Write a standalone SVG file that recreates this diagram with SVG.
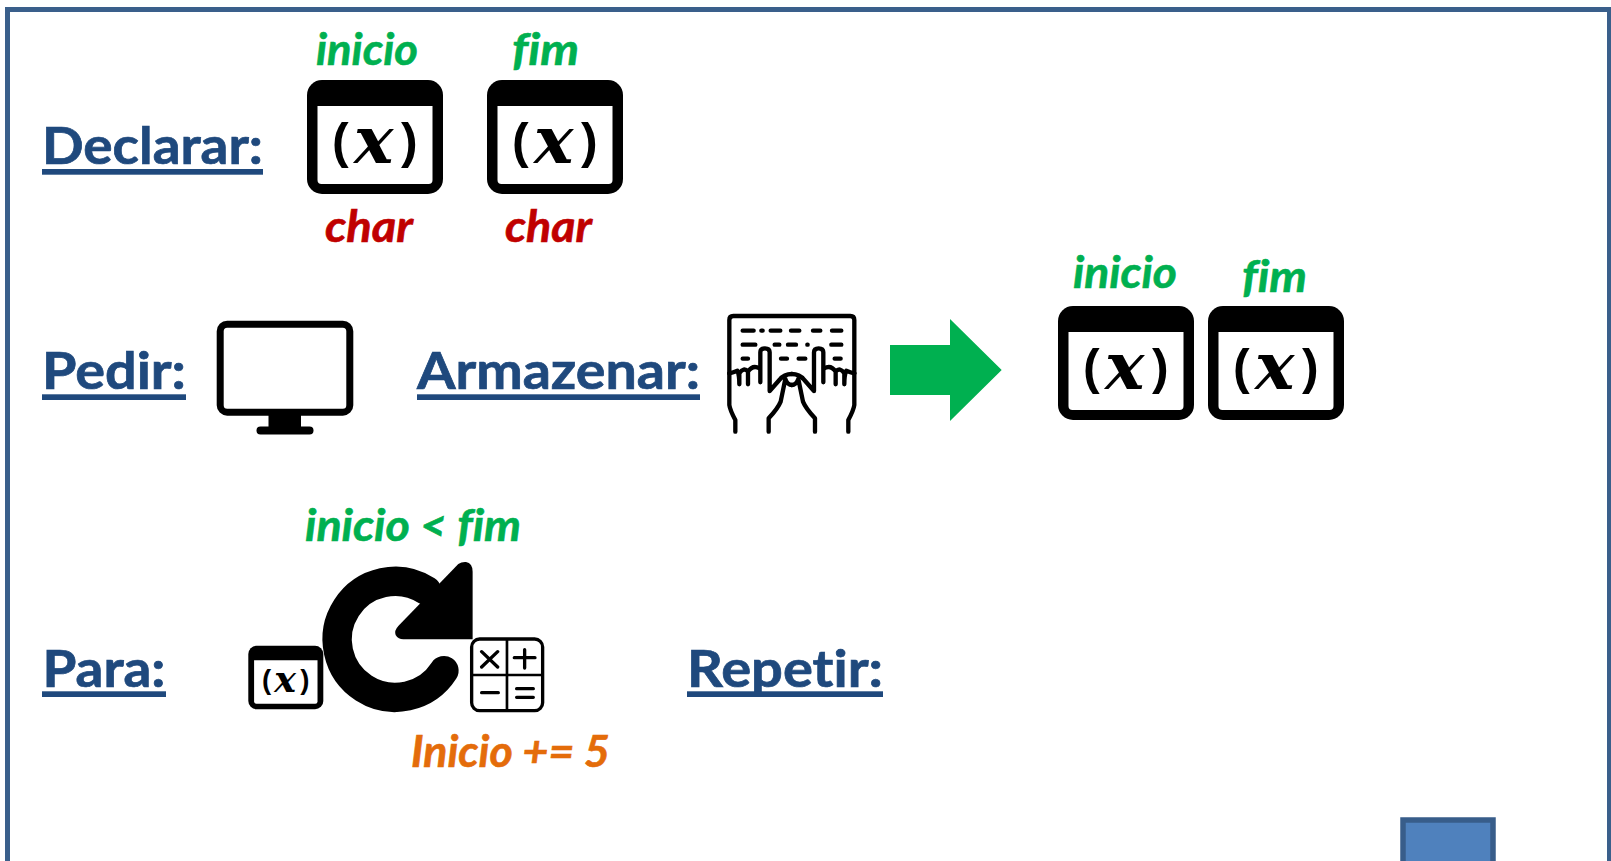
<svg xmlns="http://www.w3.org/2000/svg" xmlns:xlink="http://www.w3.org/1999/xlink" width="1611" height="861" viewBox="0 0 1611 861">
<style>
text{font-family:Lato,"Liberation Sans",sans-serif;font-weight:700;font-variant-ligatures:none}
.h{font-size:51px;fill:#1F497D;stroke:#1F497D;stroke-width:.7px}
.u{fill:#1F497D}
.v{font-size:43px;font-style:italic;stroke-width:.6px}
.g{fill:#00B050;stroke:#00B050}.r{fill:#C00000;stroke:#C00000}.o{fill:#E46C0A;stroke:#E46C0A}
.par{font-family:"Liberation Sans",sans-serif;font-size:50px;fill:#000}
.xx{font-family:"DejaVu Serif",serif;font-style:italic;font-size:66px;fill:#000}
.k{fill:none;stroke:#000;stroke-width:13;stroke-linecap:round;stroke-linejoin:round}
</style>
<defs>
<g id="win">
<rect x="0" y="0" width="136" height="114" rx="15" fill="#000"/>
<path d="M10.500 26H125.500V100Q125.500 104 121.500 104H14.500Q10.500 104 10.500 100Z" fill="#fff"/>
<text class="par" x="25" y="78">(</text>
<text class="xx" x="47" y="83">x</text>
<text class="par" x="94" y="78">)</text>
</g>
<g id="hand">
<path class="k" d="M22 205V300Q24 315 40 345V380"/>
<path class="k" d="M22 205Q34 202 46 197Q52 210 52 238V205Q65 185 78 200V238M78 200Q92 178 113 190"/>
<path class="k" d="M115 232V142Q115 130 129 130Q143 130 143 142V258L172 225Q186 207 210 207"/>
<path class="k" d="M190 222L176 290Q168 310 140 340V380M190 222Q196 240 210 240"/>
</g>
</defs>
<rect id="frame" x="7.500" y="9.500" width="1602" height="880" fill="none" stroke="#3A5F8B" stroke-width="5"/>
<g id="square"><rect x="1403" y="820" width="90" height="60" fill="#4F81BD" stroke="#385D8A" stroke-width="5.500"/></g>

<g id="declarar-label"><text class="h" x="42" y="163.500" textLength="221" lengthAdjust="spacingAndGlyphs">Declarar:</text><rect class="u" x="42" y="169" width="221" height="5.700"/></g>
<g id="var-inicio">
<text class="v g" x="316" y="65" textLength="102" lengthAdjust="spacingAndGlyphs">inicio</text>
<use xlink:href="#win" href="#win" transform="translate(307,80)"/>
<text class="v r" x="325" y="242" textLength="88" lengthAdjust="spacingAndGlyphs">char</text>
</g>
<g id="var-fim">
<text class="v g" x="512" y="65" textLength="67" lengthAdjust="spacingAndGlyphs">fim</text>
<use xlink:href="#win" href="#win" transform="translate(487,80)"/>
<text class="v r" x="505" y="242" textLength="87" lengthAdjust="spacingAndGlyphs">char</text>
</g>

<g id="pedir-label"><text class="h" x="42" y="389" textLength="144" lengthAdjust="spacingAndGlyphs">Pedir:</text><rect class="u" x="42" y="394.300" width="144" height="5.700"/></g>
<g id="monitor">
<rect x="220.200" y="324.200" width="129.600" height="88" rx="7" fill="#fff" stroke="#000" stroke-width="7"/>
<rect x="268.500" y="415" width="32.500" height="12" fill="#000"/>
<rect x="256.500" y="426.500" width="57" height="8" rx="4" fill="#000"/>
</g>
<g id="armazenar-label"><text class="h" x="417" y="389" textLength="283" lengthAdjust="spacingAndGlyphs">Armazenar:</text><rect class="u" x="417" y="394.300" width="283" height="5.700"/></g>
<g id="keyboard" transform="translate(722,305) scale(.3333)">
<path class="k" d="M22 205V45Q22 33 34 33H385Q397 33 397 45V205"/>
<path class="k" d="M62 77H95M118 77H122M146 77H175M207 77H232M273 77H295M330 77H358M62 119H100M158 119H172M198 119H222M256 119H257M328 119H358M62 161H78M177 161H195M230 161H250M338 161H356"/>
<use xlink:href="#hand" href="#hand"/>
<use xlink:href="#hand" href="#hand" transform="translate(419,0) scale(-1,1)"/>
</g>
<g id="arrow"><path d="M890 345H950V319L1001.700 370L950 421V395H890Z" fill="#00B050"/></g>
<g id="var-inicio-2">
<text class="v g" x="1073" y="288" textLength="104" lengthAdjust="spacingAndGlyphs">inicio</text>
<use xlink:href="#win" href="#win" transform="translate(1058,306)"/>
</g>
<g id="var-fim-2">
<text class="v g" x="1242" y="292" textLength="65" lengthAdjust="spacingAndGlyphs">fim</text>
<use xlink:href="#win" href="#win" transform="translate(1208,306)"/>
</g>

<g id="para-label"><text class="h" x="42.500" y="687" textLength="123" lengthAdjust="spacingAndGlyphs">Para:</text><rect class="u" x="42" y="691.300" width="124" height="5.700"/></g>
<g id="loop-condition"><text class="v g" x="305" y="541" textLength="216" lengthAdjust="spacingAndGlyphs">inicio &lt; fim</text></g>
<g id="loop" transform="translate(230,540) scale(.3333)">
<path d="M642 392A174 174 0 1 1 590 152" fill="none" stroke="#000" stroke-width="88" stroke-linecap="round"/>
<path d="M685 72Q695 65 708 66Q728 70 728 95V298H520Q505 298 497 285Q492 272 505 258Z" fill="#000"/>
</g>
<g id="loop-var"><use xlink:href="#win" href="#win" transform="translate(248.300,645.700) scale(.5515,.558)"/></g>
<g id="calculator" transform="translate(230,540) scale(.3333)">
<rect x="725" y="297" width="213" height="215" rx="24" fill="#fff" stroke="#000" stroke-width="10"/>
<path d="M831 297V512M725 405H938" fill="none" stroke="#000" stroke-width="8"/>
<path d="M755 335L803 381M803 335L755 381M884 329V384M853 353H915M755 458H805M860 446H910M860 472H910" fill="none" stroke="#000" stroke-width="10" stroke-linecap="round"/>
</g>
<g id="inc-label"><text class="v o" x="411" y="767" textLength="199" lengthAdjust="spacingAndGlyphs">Inicio += 5</text></g>
<g id="repetir-label"><text class="h" x="687" y="687" textLength="196" lengthAdjust="spacingAndGlyphs">Repetir:</text><rect class="u" x="687" y="691.300" width="196" height="5.700"/></g>
</svg>
